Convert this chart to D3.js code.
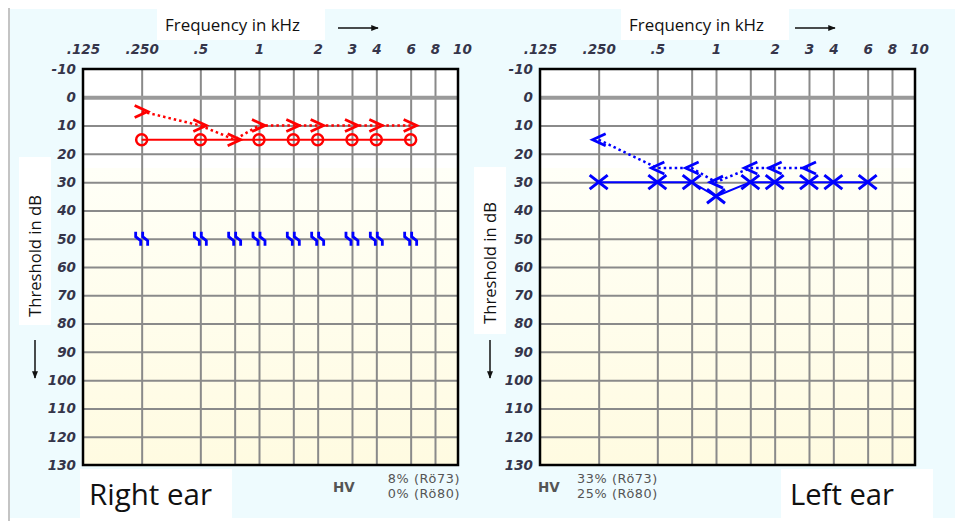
<!DOCTYPE html>
<html>
<head>
<meta charset="utf-8">
<script src="https://cdn.jsdelivr.net/npm/d3@7"></script>
<style>
  body { margin: 0; background: #fff; }
  svg { display: block; }
</style>
</head>
<body>
<svg id="chart" width="955" height="521"></svg>
<script>
// frequency axis (kHz)
const freqTicks = [0.125, 0.25, 0.5, 1, 2, 3, 4, 6, 8, 10];
const freqTickLabels = [".125", ".250", ".5", "1", "2", "3", "4", "6", "8", "10"];
const freqGrid = [0.25, 0.5, 0.75, 1, 1.5, 2, 3, 4, 6, 8];
// threshold axis (dB)
const dbTicks = [-10, 0, 10, 20, 30, 40, 50, 60, 70, 80, 90, 100, 110, 120, 130];

// right ear
const rightAirFreq = [0.25, 0.5, 1, 1.5, 2, 3, 4, 6];
const rightAirDb = [15, 15, 15, 15, 15, 15, 15, 15];
const rightBoneFreq = [0.25, 0.5, 0.75, 1, 1.5, 2, 3, 4, 6];
const rightBoneDb = [5, 10, 15, 10, 10, 10, 10, 10, 10];
const rightMaskFreq = [0.25, 0.5, 0.75, 1, 1.5, 2, 3, 4, 6];
const rightMaskDb = [50, 50, 50, 50, 50, 50, 50, 50, 50];
const rightHV = ["8% (Rö73)", "0% (Rö80)"];

// left ear
const leftAirFreq = [0.25, 0.5, 0.75, 1, 1.5, 2, 3, 4, 6];
const leftAirDb = [30, 30, 30, 35, 30, 30, 30, 30, 30];
const leftBoneFreq = [0.25, 0.5, 0.75, 1, 1.5, 2, 3];
const leftBoneDb = [15, 25, 25, 30, 25, 25, 25];
const leftHV = ["33% (Rö73)", "25% (Rö80)"];

const RED = "#ff0000", BLUE = "#0000ff";

/** Plot size */
const W = 375, H = 396;

const x = d3.scaleLog().domain([0.125, 8]).range([0, 352]);
const y = d3.scaleLinear().domain([-10, 130]).range([0, H]);

const zip = (fs, ds) => fs.map((f, i) => ({f: f, db: ds[i]}));

// scale a text's font so that it takes the wanted width
function fit(sel, width) {
  sel.each(function() {
    const t = d3.select(this);
    const w = this.getComputedTextLength();
    if (w > 0) t.attr("font-size", +t.attr("font-size") * width / w);
  });
  return sel;
}

const svg = d3.select("#chart");

/** Page background */
svg.append("rect").attr("width", 955).attr("height", 521).attr("fill", "#fff");
svg.append("rect")
  .attr("x", 10).attr("y", 9).attr("width", 945).attr("height", 509)
  .attr("fill", "#eefbfe");
svg.append("line")
  .attr("x1", 9).attr("x2", 9).attr("y1", 8).attr("y2", 521)
  .attr("stroke", "#c4c4c4").attr("stroke-width", 2);

const defs = svg.append("defs");
const grad = defs.append("linearGradient")
  .attr("id", "cream").attr("x1", 0).attr("x2", 0).attr("y1", 0).attr("y2", 1);
grad.append("stop").attr("offset", "0%").attr("stop-color", "#fffff7");
grad.append("stop").attr("offset", "100%").attr("stop-color", "#fffbe1");

defs.append("marker")
  .attr("id", "arrow").attr("viewBox", "0 0 10 10")
  .attr("refX", 9).attr("refY", 5)
  .attr("markerWidth", 5).attr("markerHeight", 5)
  .attr("orient", "auto")
  .append("path").attr("d", "M0,1L10,5L0,9Z").attr("fill", "#111");

const symbols = {
  circle: null,
  right: "M-7,-6L6,0L-7,6",
  left: "M7,-6L-6,0L7,6",
  cross: "M-9,-7L9,7M-9,7L9,-7",
  mask: "M-6,-7L-6,-2L-1,2L-1,7M1,-7L1,-2L6,2L6,7"
};

function drawPanel(cfg) {
  const g = svg.append("g").attr("transform", "translate(" + cfg.ox + "," + cfg.oy + ")");

  // plot background
  g.append("rect").attr("width", W).attr("height", H).attr("fill", "#fff");
  g.append("rect")
    .attr("y", y(25)).attr("width", W).attr("height", H - y(25))
    .attr("fill", "url(#cream)");

  // grid
  g.append("g")
    .call(d3.axisBottom(x).tickValues(freqGrid).tickSize(H).tickFormat(""))
    .call(a => a.select(".domain").remove())
    .call(a => a.selectAll("line").attr("stroke", "#8a8a8a").attr("stroke-width", 2));

  g.append("g")
    .call(d3.axisRight(y).tickValues(dbTicks.slice(1, -1)).tickSize(W).tickFormat(""))
    .call(a => a.select(".domain").remove())
    .call(a => a.selectAll("line")
      .attr("stroke", d => d === 0 ? "#9a9a9a" : "#8a8a8a")
      .attr("stroke-width", d => d === 0 ? 4 : 2));

  g.append("rect")
    .attr("width", W).attr("height", H)
    .attr("fill", "none").attr("stroke", "#000").attr("stroke-width", 2.5);

  // tick labels
  const tickStyle = a => a
    .call(s => s.select(".domain").remove())
    .call(s => s.selectAll("text")
      .attr("fill", "#35354a")
      .attr("font-family", "DejaVu Sans, sans-serif")
      .attr("font-weight", "bold")
      .attr("font-style", "italic")
      .attr("font-size", 13.5));

  g.append("g")
    .call(d3.axisTop(x).tickValues(freqTicks).tickSize(0).tickPadding(15)
      .tickFormat((d, i) => freqTickLabels[i]))
    .call(tickStyle)
    .call(a => a.selectAll(".tick").filter(d => d === 10).select("text").attr("dx", 8));

  g.append("g")
    .call(d3.axisLeft(y).tickValues(dbTicks).tickSize(0).tickPadding(7)
      .tickFormat(d => String(d)))
    .call(tickStyle);

  // data
  const line = d3.line().x(d => x(d.f)).y(d => y(d.db));

  cfg.series.forEach(s => {
    const pts = zip(s.freq, s.db);
    if (s.line) {
      g.append("path")
        .datum(pts)
        .attr("d", line)
        .attr("fill", "none")
        .attr("stroke", s.color)
        .attr("stroke-width", s.line === "dot" ? 2.5 : 2)
        .attr("stroke-dasharray", s.line === "dot" ? "2.5,3" : null);
    }
    const mk = g.append("g").selectAll("g").data(pts).join("g")
      .attr("transform", d => "translate(" + x(d.f) + "," + y(d.db) + ")");
    if (s.symbol === "circle") {
      mk.append("circle").attr("r", 5.5)
        .attr("fill", "none").attr("stroke", s.color).attr("stroke-width", 2.5);
    } else {
      mk.append("path").attr("d", symbols[s.symbol])
        .attr("fill", "none").attr("stroke", s.color)
        .attr("stroke-width", s.symbol === "cross" ? 3 : 2.8)
        .attr("stroke-linejoin", "miter");
    }
  });

  // header
  svg.append("rect")
    .attr("x", cfg.ox + 74 + cfg.hdx).attr("y", 9).attr("width", 168).attr("height", 31)
    .attr("fill", "#fff");
  svg.append("text")
    .attr("x", cfg.ox + 82 + cfg.hdx).attr("y", 31)
    .attr("font-family", "Open Sans, sans-serif").attr("font-size", 16)
    .attr("fill", "#111")
    .text("Frequency in kHz")
    .call(fit, 135);
  svg.append("line")
    .attr("x1", cfg.ox + 255).attr("x2", cfg.ox + 295)
    .attr("y1", 28).attr("y2", 28)
    .attr("stroke", "#111").attr("stroke-width", 1.5)
    .attr("marker-end", "url(#arrow)");

  // y title
  svg.append("rect")
    .attr("x", cfg.ytx - 16).attr("y", cfg.ybox[0]).attr("width", 32).attr("height", cfg.ybox[1])
    .attr("fill", "#fff");
  svg.append("text")
    .attr("transform", "translate(" + (cfg.ytx + 6) + "," + cfg.yty + ") rotate(-90)")
    .attr("text-anchor", "middle")
    .attr("font-family", "Open Sans, sans-serif").attr("font-size", 16)
    .attr("fill", "#111")
    .text("Threshold in dB")
    .call(fit, 122);
  svg.append("line")
    .attr("x1", cfg.ytx).attr("x2", cfg.ytx)
    .attr("y1", 340).attr("y2", 378)
    .attr("stroke", "#111").attr("stroke-width", 1.5)
    .attr("marker-end", "url(#arrow)");

  // ear label
  svg.append("rect")
    .attr("x", cfg.ear[0]).attr("y", 469).attr("width", 152).attr("height", 49)
    .attr("fill", "#fff");
  svg.append("text")
    .attr("x", cfg.ear[0] + 9).attr("y", 505)
    .attr("font-family", "Open Sans, sans-serif").attr("font-size", 28)
    .attr("fill", "#111")
    .text(cfg.ear[1])
    .call(fit, cfg.ear[2]);

  // HV
  svg.append("text")
    .attr("x", cfg.hv[0]).attr("y", 492)
    .attr("font-family", "DejaVu Sans, sans-serif").attr("font-size", 13.5)
    .attr("font-weight", "bold").attr("fill", "#555")
    .text("HV");
  svg.append("g").selectAll("text").data(cfg.hv[2]).join("text")
    .attr("x", cfg.hv[1]).attr("y", (d, i) => 483 + i * 15)
    .attr("text-anchor", cfg.hv[3])
    .attr("font-family", "DejaVu Sans, sans-serif").attr("font-size", 12.8)
    .attr("letter-spacing", 0.6)
    .attr("fill", "#555")
    .text(d => d);
}

drawPanel({
  ox: 83, oy: 69, hdx: 0,
  ytx: 35, yty: 256, ybox: [157, 168],
  ear: [80, "Right ear", 123],
  hv: [333, 460, rightHV, "end"],
  series: [
    {freq: rightAirFreq, db: rightAirDb, color: RED, symbol: "circle", line: "solid"},
    {freq: rightBoneFreq, db: rightBoneDb, color: RED, symbol: "right", line: "dot"},
    {freq: rightMaskFreq, db: rightMaskDb, color: BLUE, symbol: "mask", line: null}
  ]
});

drawPanel({
  ox: 540, oy: 69, hdx: 7,
  ytx: 490, yty: 263, ybox: [167, 167],
  ear: [781, "Left ear", 104],
  hv: [538, 577, leftHV, "start"],
  series: [
    {freq: leftAirFreq, db: leftAirDb, color: BLUE, symbol: "cross", line: "solid"},
    {freq: leftBoneFreq, db: leftBoneDb, color: BLUE, symbol: "left", line: "dot"}
  ]
});
</script>
</body>
</html>
